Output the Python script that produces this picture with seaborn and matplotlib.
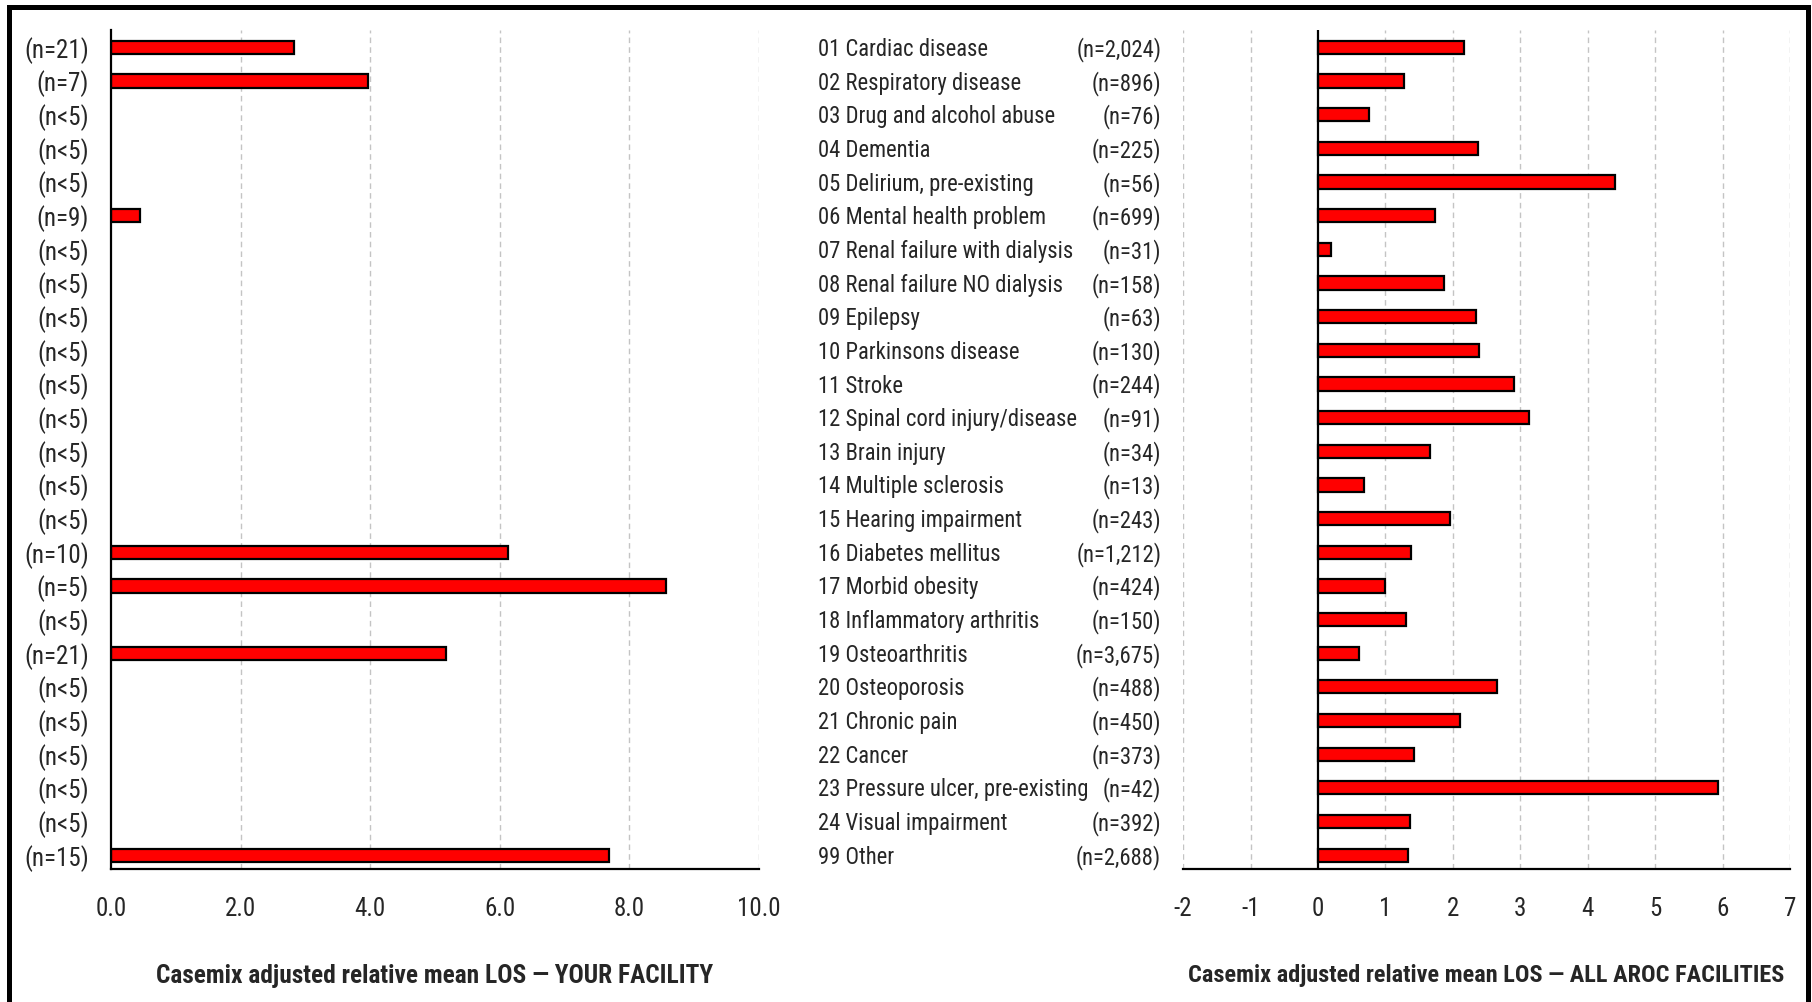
"""Casemix adjusted relative mean LOS: your facility vs all AROC facilities."""

import numpy as np
import pandas as pd
import matplotlib
matplotlib.use('Agg')
import matplotlib.pyplot as plt
import matplotlib.patches as mpatches
from matplotlib import font_manager
import seaborn as sns

sns.set_theme(style="white")

# pick a narrow face if one is installed, otherwise shrink a regular one
installed = {f.name for f in font_manager.fontManager.ttflist}
narrow = None
for cand in ["Liberation Sans Narrow", "Roboto Condensed", "Arial Narrow",
             "Noto Sans Condensed", "Open Sans Condensed", "DejaVu Sans Condensed"]:
    if cand in installed:
        narrow = cand
        break
if narrow is None:
    narrow = "Liberation Sans"
    tick_fs, cat_fs, lab_fs = 15.5, 14.5, 16
else:
    tick_fs, cat_fs, lab_fs = 18, 16.3, 18.3
plt.rcParams['font.family'] = [narrow, 'Liberation Sans', 'DejaVu Sans']

# ---- data ----
categories = [
    "01 Cardiac disease", "02 Respiratory disease", "03 Drug and alcohol abuse",
    "04 Dementia", "05 Delirium, pre-existing", "06 Mental health problem",
    "07 Renal failure with dialysis", "08 Renal failure NO dialysis", "09 Epilepsy",
    "10 Parkinsons disease", "11 Stroke", "12 Spinal cord injury/disease",
    "13 Brain injury", "14 Multiple sclerosis", "15 Hearing impairment",
    "16 Diabetes mellitus", "17 Morbid obesity", "18 Inflammatory arthritis",
    "19 Osteoarthritis", "20 Osteoporosis", "21 Chronic pain", "22 Cancer",
    "23 Pressure ulcer, pre-existing", "24 Visual impairment", "99 Other",
]
facility_n = [
    "(n=21)", "(n=7)", "(n<5)", "(n<5)", "(n<5)", "(n=9)", "(n<5)", "(n<5)",
    "(n<5)", "(n<5)", "(n<5)", "(n<5)", "(n<5)", "(n<5)", "(n<5)", "(n=10)",
    "(n=5)", "(n<5)", "(n=21)", "(n<5)", "(n<5)", "(n<5)", "(n<5)", "(n<5)",
    "(n=15)",
]
facility_los = [
    2.82, 3.97, np.nan, np.nan, np.nan, 0.44, np.nan, np.nan, np.nan, np.nan,
    np.nan, np.nan, np.nan, np.nan, np.nan, 6.12, 8.57, np.nan, 5.17, np.nan,
    np.nan, np.nan, np.nan, np.nan, 7.68,
]
aroc_n = [
    "(n=2,024)", "(n=896)", "(n=76)", "(n=225)", "(n=56)", "(n=699)", "(n=31)",
    "(n=158)", "(n=63)", "(n=130)", "(n=244)", "(n=91)", "(n=34)", "(n=13)",
    "(n=243)", "(n=1,212)", "(n=424)", "(n=150)", "(n=3,675)", "(n=488)",
    "(n=450)", "(n=373)", "(n=42)", "(n=392)", "(n=2,688)",
]
aroc_los = [
    2.16, 1.27, 0.76, 2.37, 4.40, 1.73, 0.19, 1.87, 2.34, 2.39, 2.90, 3.13,
    1.66, 0.69, 1.96, 1.38, 1.00, 1.31, 0.61, 2.65, 2.11, 1.43, 5.93, 1.36,
    1.34,
]
left_ticks = [0, 2, 4, 6, 8, 10]
right_ticks = [-2, -1, 0, 1, 2, 3, 4, 5, 6, 7]

df = pd.DataFrame({"cat": categories, "fac": facility_los, "aroc": aroc_los})

fig = plt.figure(figsize=(18.12, 10.02), dpi=100)
ax1 = fig.add_axes([0.0613, 0.1327, 0.3576, 0.8373])
ax2 = fig.add_axes([0.6529, 0.1327, 0.3350, 0.8373])

bar_kw = dict(color="#ff0000", edgecolor="black", linewidth=1.6, width=0.39,
              saturation=1, orient="h", order=categories)
sns.barplot(data=df.dropna(subset=["fac"]), x="fac", y="cat", ax=ax1, **bar_kw)
sns.barplot(data=df, x="aroc", y="cat", ax=ax2, **bar_kw)

for ax in (ax1, ax2):
    ax.set_ylim(len(categories) - 1 + 0.41, -0.515)
    ax.set_ylabel("")
    ax.grid(False)
    for s in ("top", "right"):
        ax.spines[s].set_visible(False)
    ax.spines["bottom"].set_color("black")
    ax.spines["bottom"].set_linewidth(1.6)
    ax.tick_params(axis="x", direction="out", length=8, width=1.4, color="black",
                   labelsize=tick_fs, pad=12)
    ax.tick_params(axis="y", length=0)

# left panel
ax1.set_xlim(0, 10)
ax1.set_xticks(left_ticks)
ax1.set_xticklabels([f"{t:.1f}" for t in left_ticks])
for t in left_ticks[1:]:
    ax1.axvline(t, color="#c4c4c4", linestyle=(0, (4, 3)), linewidth=1, zorder=0)
ax1.spines["left"].set_color("black")
ax1.spines["left"].set_linewidth(1.6)
ax1.set_yticks(range(len(categories)))
ax1.set_yticklabels(facility_n, fontsize=tick_fs)
ax1.tick_params(axis="y", pad=16)
ax1.set_xlabel("Casemix adjusted relative mean LOS \u2014 YOUR FACILITY",
               fontsize=lab_fs, fontweight="bold", labelpad=31)

# right panel
ax2.set_xlim(-2, 7)
ax2.set_xticks(right_ticks)
ax2.set_xticklabels([str(t) for t in right_ticks])
for t in right_ticks:
    if t != 0:
        ax2.axvline(t, color="#c4c4c4", linestyle=(0, (4, 3)), linewidth=1, zorder=0)
ax2.axvline(0, color="black", linewidth=1.6, zorder=3)
ax2.spines["left"].set_visible(False)
ax2.set_yticks([])
trans = ax2.get_yaxis_transform()
for i, (name, n) in enumerate(zip(categories, aroc_n)):
    # nudge down a touch so the text sits level with its bar
    ax2.text(-0.601, i + 0.06, name, transform=trans, ha="left", va="center",
             fontsize=cat_fs, clip_on=False)
    ax2.text(-0.036, i + 0.06, n, transform=trans, ha="right", va="center",
             fontsize=cat_fs, clip_on=False)
ax2.set_xlabel("Casemix adjusted relative mean LOS \u2014 ALL AROC FACILITIES",
               fontsize=lab_fs - 0.8, fontweight="bold", labelpad=31)

# outer frame
frame = mpatches.Rectangle((9 / 1812, -0.05), (1808 - 9) / 1812, 1.05 - 7.5 / 1002,
                           transform=fig.transFigure, fill=False,
                           edgecolor="black", linewidth=3.6)
fig.patches.append(frame)

fig.savefig("out.png", dpi=100)
